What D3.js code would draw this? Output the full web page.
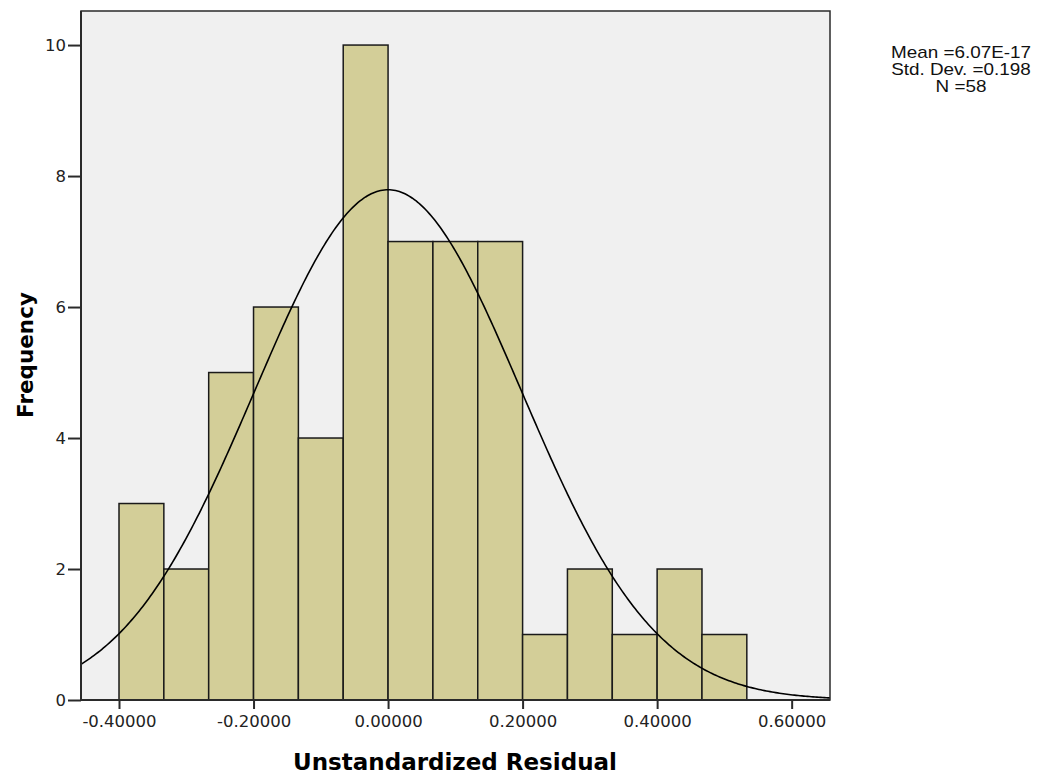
<!DOCTYPE html>
<html>
<head>
<meta charset="utf-8">
<script src="https://cdn.jsdelivr.net/npm/d3@7"></script>
<style>
  html, body { margin: 0; padding: 0; background: #ffffff; }
  svg { display: block; }
</style>
</head>
<body>
<svg id="chart" width="1045" height="775"></svg>
<script>
// ---- Data ----
const binStarts = [-0.4, -0.33333, -0.26667, -0.2, -0.13333, -0.06667, 0, 0.06667, 0.13333, 0.2, 0.26667, 0.33333, 0.4, 0.46667];
const binWidth = 1 / 15;
const frequencies = [3, 2, 5, 6, 4, 10, 7, 7, 7, 1, 2, 1, 2, 1];
const xTickValues = [-0.4, -0.2, 0, 0.2, 0.4, 0.6];
const yTickValues = [0, 2, 4, 6, 8, 10];
const stats = { mean: 6.07e-17, sd: 0.198, n: 58 };
const legendLines = ["Mean =6.07E-17", "Std. Dev. =0.198", "N =58"];

// ---- Layout ----
const svg = d3.select("#chart");
const plot = { left: 81, top: 11, right: 830, bottom: 700 };

const x = d3.scaleLinear().domain([-0.4565, 0.657]).range([plot.left, plot.right]);
const y = d3.scaleLinear().domain([0, 10.52]).range([plot.bottom, plot.top]);

// plot background
svg.append("rect")
  .attr("x", plot.left).attr("y", plot.top)
  .attr("width", plot.right - plot.left).attr("height", plot.bottom - plot.top)
  .attr("fill", "#f0f0f0");

// bars
svg.append("g").selectAll("rect")
  .data(frequencies)
  .join("rect")
  .attr("x", (d, i) => x(binStarts[i]))
  .attr("y", d => y(d))
  .attr("width", (d, i) => x(binStarts[i] + binWidth) - x(binStarts[i]))
  .attr("height", d => y(0) - y(d))
  .attr("fill", "#d3ce98")
  .attr("stroke", "#1a1a1a")
  .attr("stroke-width", 1.5);

// normal curve
svg.append("clipPath").attr("id", "clip")
  .append("rect")
  .attr("x", plot.left).attr("y", plot.top)
  .attr("width", plot.right - plot.left).attr("height", plot.bottom - plot.top);

const scaleFactor = stats.n * binWidth / (stats.sd * Math.sqrt(2 * Math.PI));
const curvePts = d3.range(0, 401).map(i => {
  const xv = x.domain()[0] + (x.domain()[1] - x.domain()[0]) * i / 400;
  const z = (xv - stats.mean) / stats.sd;
  return [xv, scaleFactor * Math.exp(-0.5 * z * z)];
});
svg.append("path")
  .datum(curvePts)
  .attr("clip-path", "url(#clip)")
  .attr("fill", "none")
  .attr("stroke", "#000")
  .attr("stroke-width", 1.6)
  .attr("d", d3.line().x(d => x(d[0])).y(d => y(d[1])));

// frame (top/right)
svg.append("rect")
  .attr("x", plot.left).attr("y", plot.top)
  .attr("width", plot.right - plot.left).attr("height", plot.bottom - plot.top)
  .attr("fill", "none")
  .attr("stroke", "#2a2a2a")
  .attr("stroke-width", 1.5);

// axes
const xAxis = d3.axisBottom(x).tickValues(xTickValues)
  .tickFormat(d3.format(".5f")).tickSize(9).tickSizeOuter(0).tickPadding(6);
const gx = svg.append("g").attr("transform", `translate(0,${plot.bottom})`).call(xAxis);
gx.select(".domain").attr("stroke", "#2a2a2a").attr("stroke-width", 2)
  .attr("d", `M${plot.left},0H${plot.right}`);
gx.selectAll(".tick line").attr("stroke", "#2a2a2a").attr("stroke-width", 2);
gx.selectAll(".tick text")
  .attr("font-family", "DejaVu Sans, sans-serif").attr("font-size", 16.5).attr("fill", "#222")
  .text(d => d3.format(".5f")(d).replace("−", "-"));

const yAxis = d3.axisLeft(y).tickValues(yTickValues).tickSize(13).tickSizeOuter(0).tickPadding(2);
const gy = svg.append("g").attr("transform", `translate(${plot.left},0)`).call(yAxis);
gy.select(".domain").attr("stroke", "#2a2a2a").attr("stroke-width", 2)
  .attr("d", `M0,${plot.top}V${plot.bottom}`);
gy.selectAll(".tick line").attr("stroke", "#2a2a2a").attr("stroke-width", 2);
gy.selectAll(".tick text")
  .attr("font-family", "DejaVu Sans, sans-serif").attr("font-size", 16.5).attr("fill", "#222");

// axis titles
svg.append("text")
  .attr("x", 455).attr("y", 770)
  .attr("text-anchor", "middle")
  .attr("font-family", "DejaVu Sans, sans-serif").attr("font-weight", "bold")
  .attr("font-size", 23).attr("fill", "#000")
  .text("Unstandardized Residual");

svg.append("text")
  .attr("transform", `translate(33,355) rotate(-90)`)
  .attr("text-anchor", "middle")
  .attr("font-family", "DejaVu Sans, sans-serif").attr("font-weight", "bold")
  .attr("font-size", 21.5).attr("fill", "#000")
  .text("Frequency");

// stats legend (horizontally stretched, like the reference)
svg.append("g")
  .attr("transform", "translate(961,0) scale(1.18,1)")
  .selectAll("text")
  .data(legendLines)
  .join("text")
  .attr("x", 0).attr("y", (d, i) => 58 + i * 17)
  .attr("text-anchor", "middle")
  .attr("font-family", "Liberation Sans, Arial, sans-serif")
  .attr("font-size", 16).attr("fill", "#111")
  .text(d => d);
</script>
</body>
</html>
